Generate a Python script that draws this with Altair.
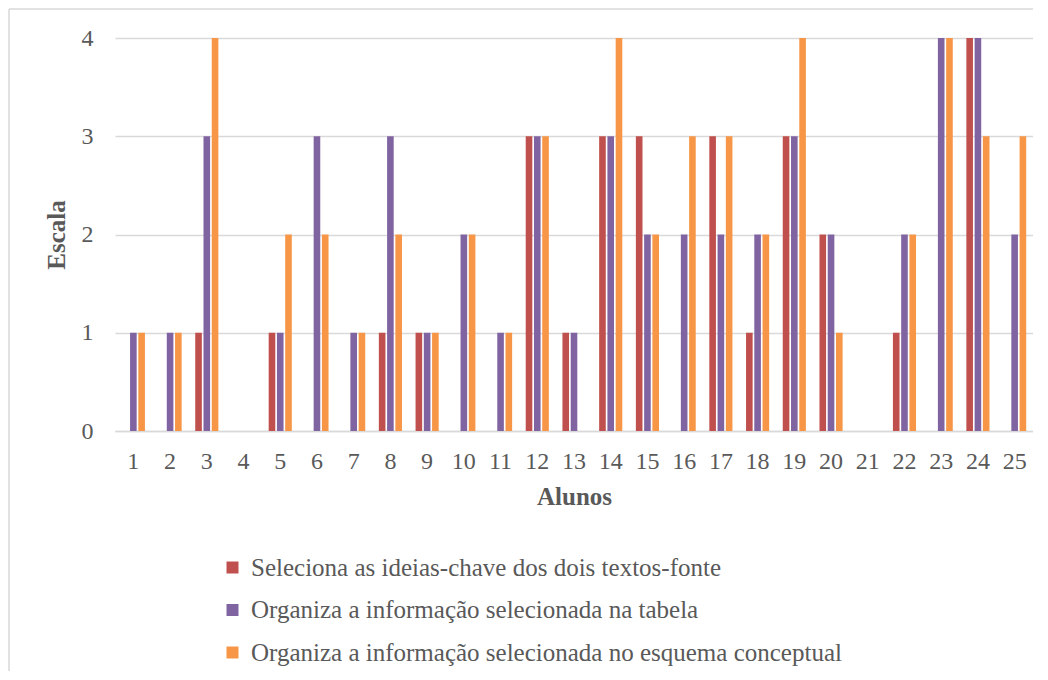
import altair as alt
import pandas as pd

alunos = [str(i) for i in range(1, 26)]
series = [
    "Seleciona as ideias-chave dos dois textos-fonte",
    "Organiza a informação selecionada na tabela",
    "Organiza a informação selecionada no esquema conceptual",
]
seleciona = [0, 0, 1, 0, 1, 0, 0, 1, 1, 0, 0, 3, 1, 3, 3, 0, 3, 1, 3, 2, 0, 1, 0, 4, 0]
tabela =    [1, 1, 3, 0, 1, 3, 1, 3, 1, 2, 1, 3, 1, 3, 2, 2, 2, 2, 3, 2, 0, 2, 4, 4, 2]
esquema =   [1, 1, 4, 0, 2, 2, 1, 2, 1, 2, 1, 3, 0, 4, 2, 3, 3, 2, 4, 1, 0, 2, 4, 3, 3]
colors = ["#C0504D", "#8064A2", "#F79646"]

rows = []
for s, vals in zip(series, [seleciona, tabela, esquema]):
    for a, v in zip(alunos, vals):
        rows.append({"Aluno": a, "Serie": s, "Valor": v})
df = pd.DataFrame(rows)

W, H = 918, 393
FONT = "Liberation Serif"

bars = alt.Chart(df).mark_bar().encode(
    x=alt.X("Aluno:N", sort=alunos,
            scale=alt.Scale(paddingInner=0.37, paddingOuter=0.185),
            axis=alt.Axis(title="Alunos", labelAngle=0, ticks=False,
                          labelPadding=18, domainColor="#d9d9d9", domainWidth=1.5,
                          labelFont=FONT, labelFontSize=24, labelColor="#595959",
                          titleFont=FONT, titleFontSize=25, titleFontWeight="bold",
                          titleColor="#595959", titlePadding=11)),
    xOffset=alt.XOffset("Serie:N", sort=series,
                        scale=alt.Scale(paddingInner=0.2, paddingOuter=0)),
    y=alt.Y("Valor:Q", scale=alt.Scale(domain=[0, 4]),
            axis=alt.Axis(title="Escala", values=[0, 1, 2, 3, 4], format="d",
                          ticks=False, domain=False, gridColor="#d9d9d9",
                          gridWidth=1.5, labelPadding=22,
                          labelFont=FONT, labelFontSize=24, labelColor="#595959",
                          titleFont=FONT, titleFontSize=25, titleFontWeight="bold",
                          titleColor="#595959", titlePadding=12)),
    color=alt.Color("Serie:N", sort=series,
                    scale=alt.Scale(domain=series, range=colors),
                    legend=alt.Legend(title=None, orient="none", legendX=105, legendY=517,
                                      direction="vertical", symbolType="square",
                                      symbolSize=144, symbolStrokeWidth=0,
                                      labelFont=FONT, labelFontSize=25,
                                      labelColor="#595959", labelOffset=6,
                                      rowPadding=16.5, padding=0, labelLimit=800)),
)

frame_df = pd.DataFrame({"k": [0]})
top_line = alt.Chart(frame_df).mark_rule(color="#d9d9d9", strokeWidth=1.5).encode(
    x=alt.value(-106), x2=alt.value(1000), y=alt.value(-29))
left_line = alt.Chart(frame_df).mark_rule(color="#d9d9d9", strokeWidth=1.5).encode(
    x=alt.value(-106), y=alt.value(-29), y2=alt.value(700))

chart = alt.layer(bars, top_line, left_line).properties(
    width=W, height=H,
    autosize=alt.AutoSizeParams(type="none"),
    padding={"left": 107, "top": 30, "right": 0, "bottom": 240},
).configure_view(stroke=None)

chart.save("out.html", embed_options={"renderer": "svg", "actions": False})
